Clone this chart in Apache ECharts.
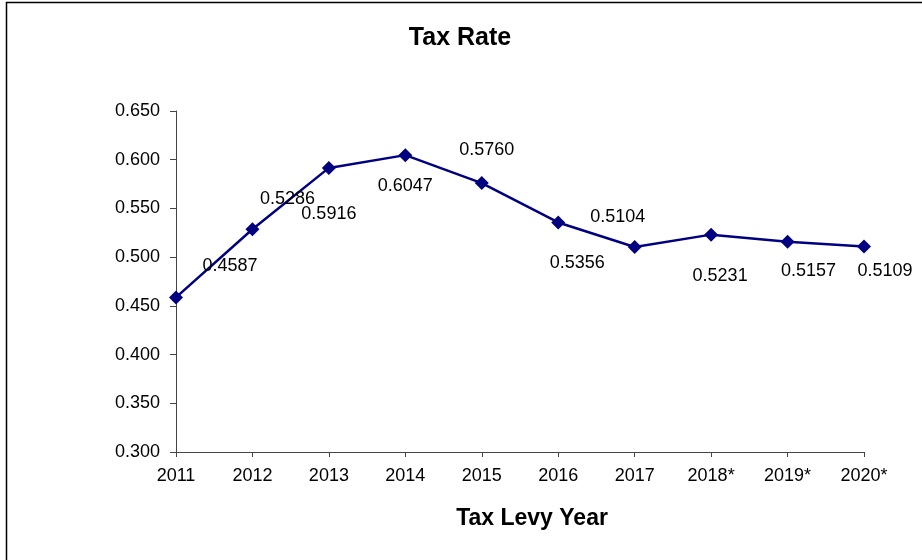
<!DOCTYPE html>
<html>
<head>
<meta charset="utf-8">
<script src="https://cdn.jsdelivr.net/npm/echarts@6/dist/echarts.min.js"></script>
<style>
  html, body { margin: 0; padding: 0; background: #fff; }
  #chart { width: 922px; height: 560px; }
</style>
</head>
<body>
<div id="chart"></div>
<script>
// 数据
var years = ['2011', '2012', '2013', '2014', '2015', '2016', '2017', '2018*', '2019*', '2020*'];
var taxRate = [0.4587, 0.5286, 0.5916, 0.6047, 0.5760, 0.5356, 0.5104, 0.5231, 0.5157, 0.5109];
var yTicks = [0.300, 0.350, 0.400, 0.450, 0.500, 0.550, 0.600, 0.650];

// label offsets (as in the original, labels sit away from their points)
var labelOffsets = [[54, -31], [35, -30], [0, 46], [0, 31], [5, -33], [19, 41], [-17, -30], [9, 41], [21, 29], [21, 25]];

var font = 'Liberation Sans, Arial, sans-serif';
var chart = echarts.init(document.getElementById('chart'));

var option = {
    backgroundColor: '#fff',
    animation: false,
    title: {
        text: 'Tax Rate',
        left: 455,
        top: 21,
        textAlign: 'center',
        textStyle: { fontFamily: font, fontSize: 25, fontWeight: 'bold', color: '#000' }
    },
    grid: { left: 176, right: 58, top: 111, bottom: 108, containLabel: false },
    xAxis: {
        type: 'category',
        data: years,
        boundaryGap: false,
        name: 'Tax Levy Year',
        nameLocation: 'middle',
        nameGap: 55,
        nameTextStyle: { fontFamily: font, fontSize: 23, fontWeight: 'bold', color: '#000', padding: [0, 0, 0, 24] },
        axisLine: { lineStyle: { color: '#444', width: 1 } },
        axisTick: { alignWithLabel: true, length: 5, lineStyle: { color: '#444' } },
        axisLabel: { fontFamily: font, fontSize: 18, color: '#000', margin: 15 },
        splitLine: { show: false }
    },
    yAxis: {
        type: 'value',
        min: yTicks[0],
        max: yTicks[yTicks.length - 1],
        interval: 0.05,
        axisLine: { show: true, lineStyle: { color: '#444', width: 1 } },
        axisTick: { show: true, length: 6, lineStyle: { color: '#444' } },
        axisLabel: {
            fontFamily: font, fontSize: 18, color: '#000', margin: 16,
            formatter: function (v) { return v.toFixed(3); }
        },
        splitLine: { show: false }
    },
    series: [{
        name: 'Tax Rate',
        type: 'line',
        data: taxRate.map(function (v, i) {
            return {
                value: v,
                label: { offset: labelOffsets[i] }
            };
        }),
        symbol: 'diamond',
        symbolSize: 14,
        lineStyle: { color: '#000080', width: 2.5 },
        itemStyle: { color: '#000080' },
        label: {
            show: true,
            position: 'inside',
            align: 'center',
            verticalAlign: 'middle',
            fontFamily: font,
            fontSize: 18,
            color: '#000',
            formatter: function (p) { return p.value.toFixed(4); }
        }
    }],
    graphic: [{
        type: 'rect',
        shape: { x: 6.5, y: 2.5, width: 1000, height: 1000 },
        style: { fill: 'none', stroke: '#000', lineWidth: 1.5 },
        silent: true
    }]
};

chart.setOption(option);
</script>
</body>
</html>
